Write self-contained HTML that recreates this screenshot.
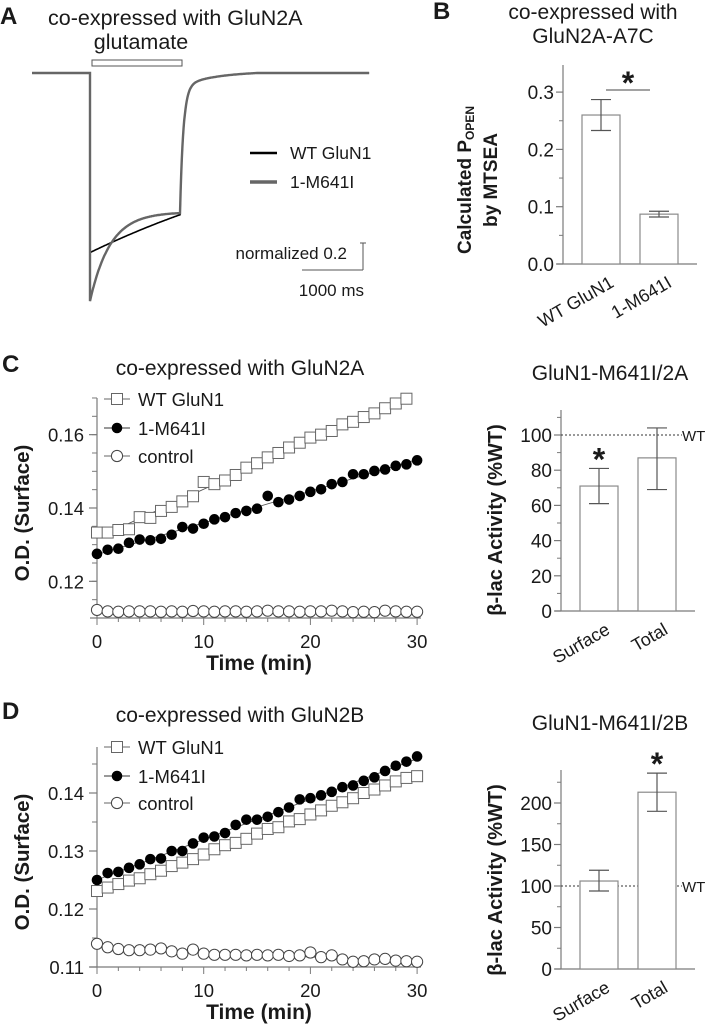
<!DOCTYPE html>
<html><head><meta charset="utf-8">
<style>
html,body{margin:0;padding:0;background:#fff;}
svg{display:block;font-family:"Liberation Sans",sans-serif;}
</style></head>
<body>
<svg id="fig" width="709" height="1025" viewBox="0 0 709 1025" xmlns="http://www.w3.org/2000/svg"></svg>
<script>
// ---------- DATA ----------
const traceWTPeak = 1.33, traceMutPeak = 1.69, traceSteady = 1.05;
const bCategories = ["WT GluN1", "1-M641I"];
const bValues = [0.26, 0.087];
const bErrors = [0.027, 0.005];
const bTicks = [0.0, 0.1, 0.2, 0.3];
const bTickLabels = ["0.0", "0.1", "0.2", "0.3"];
const timeMin = [0,1,2,3,4,5,6,7,8,9,10,11,12,13,14,15,16,17,18,19,20,21,22,23,24,25,26,27,28,29,30];
const cWT = [0.1333,0.1333,0.134,0.1342,0.1375,0.1373,0.1392,0.1403,0.1418,0.1432,0.1471,0.1465,0.1475,0.149,0.151,0.1522,0.1538,0.155,0.1565,0.1578,0.1592,0.160,0.161,0.1628,0.1635,0.1648,0.1658,0.1672,0.1685,0.1698];
const cMut = [0.1275,0.1286,0.1289,0.1305,0.1314,0.1312,0.1316,0.1327,0.1348,0.1344,0.1357,0.1369,0.1375,0.1386,0.1392,0.1398,0.1433,0.1416,0.1423,0.1433,0.1444,0.1451,0.1465,0.1471,0.1492,0.1492,0.1501,0.1505,0.1515,0.1519,0.153];
const cCtrl = [0.1122,0.1118,0.1117,0.1118,0.1118,0.1118,0.1117,0.1118,0.1117,0.1119,0.1118,0.1117,0.1118,0.1118,0.1117,0.1118,0.112,0.1118,0.1118,0.1117,0.1118,0.1118,0.112,0.1118,0.1116,0.1117,0.1116,0.112,0.1118,0.1117,0.1117];
const cYTicks = [0.12, 0.14, 0.16];
const cYTickLabels = ["0.12", "0.14", "0.16"];
const dWT = [0.1231,0.1237,0.1243,0.1249,0.1253,0.126,0.1266,0.1274,0.128,0.1286,0.1294,0.1303,0.131,0.1314,0.1321,0.133,0.1338,0.1341,0.1351,0.1355,0.1363,0.137,0.1378,0.1384,0.1391,0.14,0.1406,0.1413,0.142,0.1426,0.1429];
const dMut = [0.125,0.1262,0.1264,0.1271,0.1277,0.1286,0.1287,0.13,0.13,0.1313,0.1323,0.1325,0.1331,0.1345,0.1354,0.1354,0.1359,0.1367,0.1375,0.1389,0.1391,0.1396,0.1402,0.141,0.1413,0.1421,0.1427,0.1438,0.1447,0.1454,0.1463];
const dCtrl = [0.114,0.1134,0.1131,0.1129,0.1129,0.113,0.1132,0.1127,0.1123,0.113,0.1123,0.1121,0.1121,0.1121,0.112,0.1121,0.112,0.1121,0.1119,0.112,0.1125,0.1117,0.112,0.1113,0.1109,0.111,0.1113,0.1114,0.1111,0.111,0.1109];
const dYTicks = [0.11, 0.12, 0.13, 0.14];
const dYTickLabels = ["0.11", "0.12", "0.13", "0.14"];
const xTicks = [0, 10, 20, 30];
const xTickLabels = ["0", "10", "20", "30"];
const barCategories = ["Surface", "Total"];
const c2Values = [71, 87];
const c2ErrLo = [61, 69];
const c2ErrHi = [81, 104];
const c2Ticks = [0,20,40,60,80,100];
const c2TickLabels = ["0","20","40","60","80","100"];
const d2Values = [106, 213];
const d2ErrLo = [94, 190];
const d2ErrHi = [119, 236];
const d2Ticks = [0,50,100,150,200];
const d2TickLabels = ["0","50","100","150","200"];

// ---------- HELPERS ----------
const svg = document.getElementById('fig');
const NS = 'http://www.w3.org/2000/svg';
function mk(tag, attrs, name, parent) {
  const el = document.createElementNS(NS, tag);
  for (const k in attrs) el.setAttribute(k, attrs[k]);
  
  
  (parent || svg).appendChild(el);
  return el;
}
function txt(x, y, s, attrs, name, parent) {
  const el = mk('text', Object.assign({x: x, y: y, fill: '#1a1a1a'}, attrs), name, parent);
  el.textContent = s;
  return el;
}
function ln(x1, y1, x2, y2, stroke, w, name, parent, extra) {
  return mk('line', Object.assign({x1: x1, y1: y1, x2: x2, y2: y2, stroke: stroke, 'stroke-width': w}, extra || {}), name, parent);
}
const AX = '#7a7a7a';

// ---------- PANEL A ----------
(function () {
  const g = mk('g', {}, 'panel-a');
  txt(0, 24, 'A', {'font-size': 24, 'font-weight': 'bold'}, 'panel-label-a', g);
  txt(48, 25, 'co-expressed with GluN2A', {'font-size': 21.5}, 'panel-a-title', g);
  txt(141, 49, 'glutamate', {'font-size': 21.5, 'text-anchor': 'middle'}, 'glutamate-label', g);
  mk('rect', {x: 92, y: 60, width: 90, height: 6, fill: 'none', stroke: '#555', 'stroke-width': 1}, 'glutamate-bar', g);
  const x0 = 90, pxPerMs = 0.061, base = 73, pxPerUnit = 135, offMs = 1475;
  const X = t => x0 + t * pxPerMs, Y = a => base + a * pxPerUnit;
  function trace(peak, tau, shape) {
    let d = 'M' + X(-950) + ' ' + Y(0) + ' L' + X(0) + ' ' + Y(0);
    for (let t = 0; t <= offMs; t += 10) {
      let a;
      if (shape === 'wt') a = traceSteady + (peak - traceSteady) * (1 - t / offMs) * (0.85 + 0.15 * (1 - t / offMs));
      else a = traceSteady - 0.02 + (peak - traceSteady + 0.02) * Math.exp(-t / tau);
      d += ' L' + X(t).toFixed(1) + ' ' + Y(a).toFixed(1);
    }
    const aOff = shape === 'wt' ? traceSteady : traceSteady - 0.02 + (peak - traceSteady + 0.02) * Math.exp(-offMs / tau);
    for (let t = 0; t <= 3100; t += 10) {
      const a = aOff * Math.exp(-t / 55) * 0.9 + 0.1 * aOff * Math.exp(-t / 500) - 0.02 * (t / 3100);
      d += ' L' + X(offMs + t).toFixed(1) + ' ' + Y(Math.max(a, 0.0)).toFixed(1);
    }
    return d;
  }
  mk('path', {d: trace(traceWTPeak, 0, 'wt'), fill: 'none', stroke: '#000', 'stroke-width': 1.6}, 'wt-glun1-trace', g);
  mk('path', {d: trace(traceMutPeak, 330, 'mut'), fill: 'none', stroke: '#666', 'stroke-width': 2.4}, 'm641i-trace', g);
  ln(250, 153, 277, 153, '#000', 2.5, 'legend-wt-line', g);
  txt(290, 159, 'WT GluN1', {'font-size': 17.5}, 'legend-wt-label', g);
  ln(250, 182, 277, 182, '#666', 3.5, 'legend-m641i-line', g);
  txt(290, 188, '1-M641I', {'font-size': 17.5}, 'legend-m641i-label', g);
  ln(363, 243, 363, 270, '#555', 1, 'scale-bar-vertical', g);
  ln(360, 243, 366, 243, '#555', 1, 'scale-bar-cap', g);
  ln(302, 270, 363, 270, '#555', 1, 'scale-bar-horizontal', g);
  txt(347, 259, 'normalized 0.2', {'font-size': 17, 'text-anchor': 'end'}, 'scale-amplitude-label', g);
  txt(364, 296, '1000 ms', {'font-size': 17, 'text-anchor': 'end'}, 'scale-time-label', g);
})();

// ---------- BAR PANEL ----------
function barPanel(cfg) {
  const g = mk('g', {}, cfg.name);
  const Y = v => cfg.y0 - (v - cfg.vmin) * cfg.ppu;
  ln(cfg.ax, cfg.yTop, cfg.ax, cfg.y0, AX, 1.2, 'y-axis', g);
  ln(cfg.ax - 6, cfg.y0, cfg.axEnd, cfg.y0, AX, 1.2, 'x-axis', g);
  cfg.ticks.forEach((t, i) => {
    ln(cfg.ax - 7, Y(t), cfg.ax, Y(t), AX, 1.2, 'y-tick', g);
    txt(cfg.ax - 9, Y(t) + 7, cfg.tickLabels[i], {'font-size': 19, 'text-anchor': 'end'}, 'y-tick-label', g);
  });
  cfg.minor.forEach(t => { ln(cfg.ax - 4, Y(t), cfg.ax, Y(t), AX, 1, 'y-minor-tick', g); });
  if (cfg.wtLine) {
    ln(cfg.ax, Y(100), cfg.axEnd - 13, Y(100), '#333', 1, 'wt-reference-line', g, {'stroke-dasharray': '2,2'});
    txt(cfg.axEnd - 13, Y(100) + 6, 'WT', {'font-size': 15}, 'wt-reference-label', g);
  }
  cfg.values.forEach((v, i) => {
    const bx = cfg.barX[i];
    mk('rect', {x: bx, y: Y(v), width: cfg.bw, height: cfg.y0 - Y(v), fill: '#fff', stroke: '#8a8a8a', 'stroke-width': 1.2}, 'bar-' + cfg.cats[i].toLowerCase().replace(/[^a-z0-9]+/g, '-'), g);
    const cx = bx + cfg.bw / 2;
    ln(cx, Y(cfg.lo[i]), cx, Y(cfg.hi[i]), '#555', 1.2, 'error-bar', g);
    ln(cx - 10, Y(cfg.lo[i]), cx + 10, Y(cfg.lo[i]), '#555', 1.2, 'error-cap-low', g);
    ln(cx - 10, Y(cfg.hi[i]), cx + 10, Y(cfg.hi[i]), '#555', 1.2, 'error-cap-high', g);
    const lx = cx + cfg.labDx, ly = cfg.y0 + cfg.labDy;
    txt(lx, ly, cfg.cats[i], {'font-size': 18, 'text-anchor': 'end', transform: 'rotate(-30 ' + lx + ' ' + ly + ')'}, 'x-tick-label', g);
  });
  return {g: g, Y: Y};
}

// Panel B
(function () {
  const lo = bValues.map((v, i) => v - bErrors[i]);
  const hi = bValues.map((v, i) => v + bErrors[i]);
  const p = barPanel({name: 'panel-b', ax: 563, axEnd: 697, y0: 264, yTop: 65, vmin: 0, ppu: 573,
    ticks: bTicks, tickLabels: bTickLabels, minor: [0.05, 0.15, 0.25], values: bValues, lo: lo, hi: hi,
    cats: bCategories, barX: [582, 640], bw: 38, labDx: 14, labDy: 22});
  txt(433, 19, 'B', {'font-size': 24, 'font-weight': 'bold'}, 'panel-label-b', p.g);
  txt(593, 19, 'co-expressed with', {'font-size': 21, 'text-anchor': 'middle'}, 'panel-b-title-1', p.g);
  txt(593, 43, 'GluN2A-A7C', {'font-size': 21, 'text-anchor': 'middle'}, 'panel-b-title-2', p.g);
  ln(606, 90, 650, 90, '#444', 1, 'significance-line', p.g);
  txt(628, 94, '*', {'font-size': 32, 'font-weight': 'bold', 'text-anchor': 'middle'}, 'significance-star', p.g);
  const t = txt(471, 180, '', {'font-size': 19, 'font-weight': 'bold', 'text-anchor': 'middle', transform: 'rotate(-90 471 180)'}, 'y-axis-title-line1', p.g);
  t.innerHTML = 'Calculated P<tspan font-size="12" dy="3">OPEN</tspan>';
  txt(497, 180, 'by MTSEA', {'font-size': 19, 'font-weight': 'bold', 'text-anchor': 'middle', transform: 'rotate(-90 497 180)'}, 'y-axis-title-line2', p.g);
})();

// Right C
(function () {
  const p = barPanel({name: 'panel-c-bars', ax: 561, axEnd: 695, y0: 611, yTop: 410, vmin: 0, ppu: 1.76,
    ticks: c2Ticks, tickLabels: c2TickLabels, minor: [10,30,50,70,90,110], values: c2Values, lo: c2ErrLo, hi: c2ErrHi,
    cats: barCategories, barX: [580, 638], bw: 38, labDx: 12, labDy: 22, wtLine: true});
  txt(610, 380, 'GluN1-M641I/2A', {'font-size': 21, 'text-anchor': 'middle'}, 'panel-c-bars-title', p.g);
  txt(599, p.Y(c2ErrHi[0]) + 2, '*', {'font-size': 32, 'font-weight': 'bold', 'text-anchor': 'middle'}, 'significance-star', p.g);
  txt(502, 520, 'β-lac Activity (%WT)', {'font-size': 20, 'font-weight': 'bold', 'text-anchor': 'middle', transform: 'rotate(-90 502 520)'}, 'y-axis-title', p.g);
})();

// Right D
(function () {
  const p = barPanel({name: 'panel-d-bars', ax: 561, axEnd: 695, y0: 969, yTop: 770, vmin: 0, ppu: 0.83,
    ticks: d2Ticks, tickLabels: d2TickLabels, minor: [25,75,125,175,225], values: d2Values, lo: d2ErrLo, hi: d2ErrHi,
    cats: barCategories, barX: [580, 638], bw: 38, labDx: 12, labDy: 22, wtLine: true});
  txt(610, 730, 'GluN1-M641I/2B', {'font-size': 21, 'text-anchor': 'middle'}, 'panel-d-bars-title', p.g);
  txt(657, p.Y(d2ErrHi[1]) + 2, '*', {'font-size': 32, 'font-weight': 'bold', 'text-anchor': 'middle'}, 'significance-star', p.g);
  txt(502, 880, 'β-lac Activity (%WT)', {'font-size': 20, 'font-weight': 'bold', 'text-anchor': 'middle', transform: 'rotate(-90 502 880)'}, 'y-axis-title', p.g);
})();

// ---------- SCATTER PANEL ----------
function scatterPanel(cfg) {
  const g = mk('g', {}, cfg.name);
  const X = t => 97 + t * 10.67;
  const Y = v => cfg.y0 - (v - cfg.vmin) * cfg.ppu;
  ln(97, cfg.yTop, 97, cfg.y0, AX, 1.2, 'y-axis', g);
  ln(90, cfg.y0, 421, cfg.y0, AX, 1.2, 'x-axis', g);
  cfg.yTicks.forEach((t, i) => {
    ln(89, Y(t), 97, Y(t), AX, 1.2, 'y-tick', g);
    txt(84, Y(t) + 7, cfg.yTickLabels[i], {'font-size': 18.5, 'text-anchor': 'end'}, 'y-tick-label', g);
  });
  for (let v = cfg.vmin; v <= cfg.vmax + 1e-9; v += 0.005) ln(92, Y(v), 97, Y(v), AX, 1, 'y-minor-tick', g);
  for (let t = 0; t <= 30; t += 2) ln(X(t), cfg.y0, X(t), cfg.y0 + (t % 10 === 0 ? 7 : 4), AX, 1, 'x-tick', g);
  xTicks.forEach((t, i) => txt(X(t), cfg.y0 + 30, xTickLabels[i], {'font-size': 18.5, 'text-anchor': 'middle'}, 'x-tick-label', g));
  txt(259, cfg.y0 + 52, 'Time (min)', {'font-size': 21, 'font-weight': 'bold', 'text-anchor': 'middle'}, 'x-axis-title', g);
  const yc = (cfg.yTop + cfg.y0) / 2 + 5;
  txt(29, yc, 'O.D. (Surface)', {'font-size': 20.5, 'font-weight': 'bold', 'text-anchor': 'middle', transform: 'rotate(-90 29 ' + yc + ')'}, 'y-axis-title', g);
  function fit(arr, name) {
    const n = arr.length; let sx = 0, sy = 0, sxy = 0, sxx = 0;
    for (let i = 0; i < n; i++) { sx += timeMin[i]; sy += arr[i]; sxy += timeMin[i] * arr[i]; sxx += timeMin[i] * timeMin[i]; }
    const m = (n * sxy - sx * sy) / (n * sxx - sx * sx), b = (sy - m * sx) / n;
    ln(X(0), Y(b), X(timeMin[n - 1]), Y(b + m * timeMin[n - 1]), '#555', 0.9, name, g);
  }
  fit(cfg.wt, 'wt-fit-line'); fit(cfg.mut, 'm641i-fit-line'); fit(cfg.ctrl, 'control-fit-line');
  cfg.ctrl.forEach((v, i) => mk('circle', {cx: X(timeMin[i]), cy: Y(v), r: 5.6, fill: '#fff', stroke: '#444', 'stroke-width': 1}, 'control-point', g));
  cfg.wt.forEach((v, i) => mk('rect', {x: X(timeMin[i]) - 5.5, y: Y(v) - 5.5, width: 11, height: 11, fill: '#fff', stroke: '#666', 'stroke-width': 1}, 'wt-point', g));
  cfg.mut.forEach((v, i) => mk('circle', {cx: X(timeMin[i]), cy: Y(v), r: 5.3, fill: '#000'}, 'm641i-point', g));
  const L = cfg.leg;
  ln(104, L[0], 130, L[0], '#666', 1, 'legend-wt-line', g);
  mk('rect', {x: 111.5, y: L[0] - 5.5, width: 11, height: 11, fill: '#fff', stroke: '#666'}, 'legend-wt-marker', g);
  txt(138, L[0] + 7, 'WT GluN1', {'font-size': 18.5}, 'legend-wt-label', g);
  ln(104, L[1], 130, L[1], '#333', 1, 'legend-m641i-line', g);
  mk('circle', {cx: 117, cy: L[1], r: 5.3, fill: '#000'}, 'legend-m641i-marker', g);
  txt(138, L[1] + 7, '1-M641I', {'font-size': 18.5}, 'legend-m641i-label', g);
  ln(104, L[2], 130, L[2], '#666', 1, 'legend-control-line', g);
  mk('circle', {cx: 117, cy: L[2], r: 5.6, fill: '#fff', stroke: '#444'}, 'legend-control-marker', g);
  txt(138, L[2] + 7, 'control', {'font-size': 18.5}, 'legend-control-label', g);
  txt(2, cfg.titleY, cfg.label, {'font-size': 24, 'font-weight': 'bold'}, 'panel-label', g);
  txt(240, cfg.titleY + 3, cfg.title, {'font-size': 21, 'text-anchor': 'middle'}, 'panel-title', g);
}
scatterPanel({name: 'panel-c', y0: 618, yTop: 398, vmin: 0.11, vmax: 0.17, ppu: 3667, yTicks: cYTicks, yTickLabels: cYTickLabels,
  wt: cWT, mut: cMut, ctrl: cCtrl, leg: [399, 428, 456], titleY: 372, label: 'C', title: 'co-expressed with GluN2A'});
scatterPanel({name: 'panel-d', y0: 967, yTop: 747, vmin: 0.11, vmax: 0.146, ppu: 5800, yTicks: dYTicks, yTickLabels: dYTickLabels,
  wt: dWT, mut: dMut, ctrl: dCtrl, leg: [747, 776, 803], titleY: 719, label: 'D', title: 'co-expressed with GluN2B'});
</script>
</body></html>
